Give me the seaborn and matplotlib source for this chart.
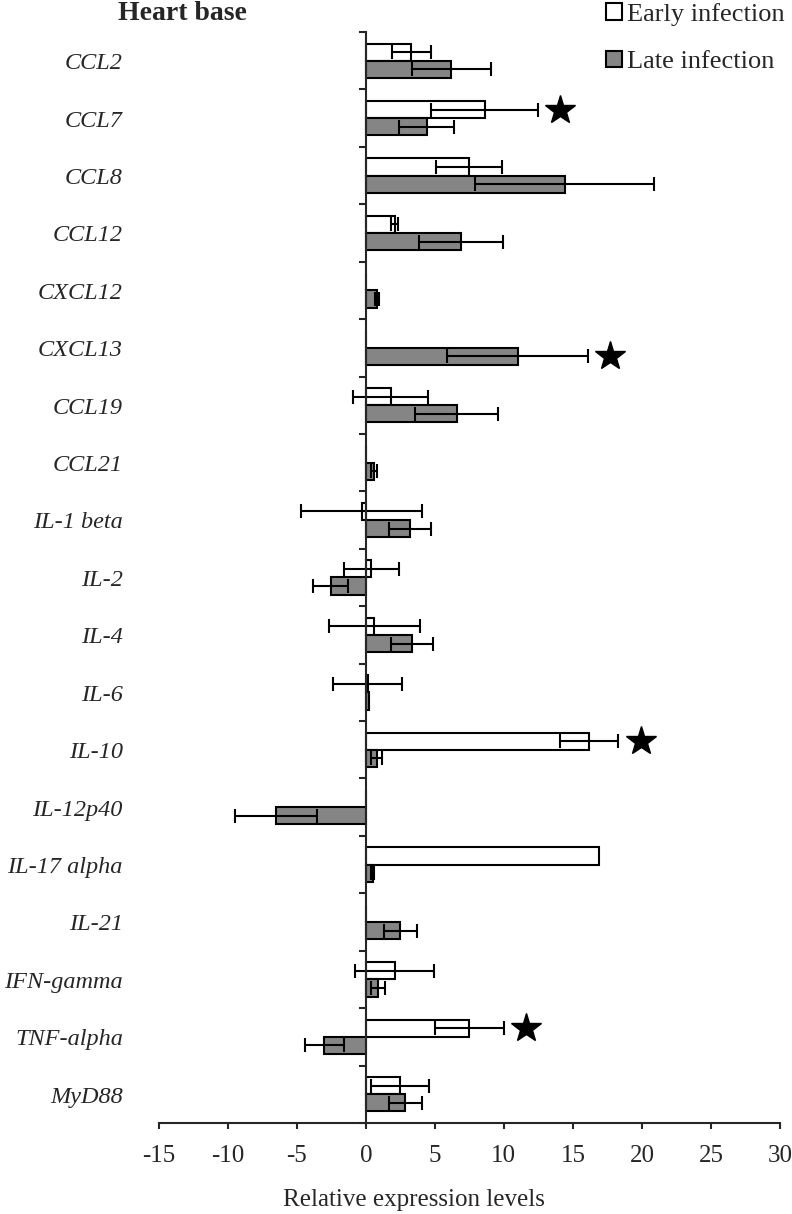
import numpy as np
import pandas as pd
import matplotlib
matplotlib.use("Agg")
import matplotlib.pyplot as plt
import seaborn as sns
from matplotlib.patches import Patch

# values (relative expression, mean and error)
genes = ["CCL2", "CCL7", "CCL8", "CCL12", "CXCL12", "CXCL13", "CCL19", "CCL21",
         "IL-1 beta", "IL-2", "IL-4", "IL-6", "IL-10", "IL-12p40", "IL-17 alpha",
         "IL-21", "IFN-gamma", "TNF-alpha", "MyD88"]
early = [3.3, 8.6, 7.5, 2.1, 0, 0, 1.8, 0, -0.3, 0.4, 0.6, 0.15, 16.2, 0, 16.9, 0, 2.1, 7.5, 2.5]
early_err = [1.4, 3.9, 2.4, 0.25, 0, 0, 2.7, 0, 4.4, 2.0, 3.3, 2.5, 2.1, 0, 0, 0, 2.85, 2.5, 2.1]
late = [6.2, 4.4, 14.4, 6.9, 0.8, 11.0, 6.6, 0.6, 3.2, -2.55, 3.35, 0.2, 0.8, -6.5, 0.5, 2.5, 0.9, -3.0, 2.85]
late_err = [2.85, 2.0, 6.5, 3.05, 0.15, 5.1, 3.0, 0.2, 1.5, 1.25, 1.55, 0, 0.4, 3.0, 0.1, 1.2, 0.5, 1.4, 1.2]
groups = ["Early infection", "Late infection"]
star_genes = ["CCL7", "CXCL13", "IL-10", "TNF-alpha"]
star_group = ["Early infection", "Late infection", "Early infection", "Early infection"]

sns.set_style("ticks")
plt.rcParams["font.family"] = ["Liberation Serif", "DejaVu Serif"]
plt.rcParams["axes.unicode_minus"] = False

df = pd.DataFrame({"gene": genes * 2,
                   "value": early + late,
                   "group": [groups[0]] * len(genes) + [groups[1]] * len(genes)})
errs = early_err + late_err
gray = "#858585"

fig = plt.figure(figsize=(7.92, 12.14), dpi=100)
ax = fig.add_axes([0.2004, 0.075, 0.7844, 0.8986])
sns.barplot(data=df, y="gene", x="value", hue="group", orient="h",
            palette=["white", gray], edgecolor="black", linewidth=1.5,
            width=0.6, gap=0, errorbar=None, legend=False, saturation=1, ax=ax)

# error bars on top of the bars
for p, e in zip(ax.patches, errs):
    if e > 0:
        ax.errorbar(p.get_x() + p.get_width(), p.get_y() + p.get_height() / 2,
                    xerr=e, color="black", capsize=5, elinewidth=1.5, capthick=1.5)

# significance stars
n = len(genes)
for g, grp in zip(star_genes, star_group):
    i = genes.index(g) + (0 if grp == groups[0] else n)
    p = ax.patches[i]
    ax.plot(p.get_x() + p.get_width() + errs[i] + 1.6, p.get_y() + p.get_height() / 2,
            marker="*", ms=22, color="black", linestyle="none")

ax.set_xlim(-15, 30)
ax.set_xticks(range(-15, 31, 5))
ax.set_ylim(n - 0.5, -0.5)
ax.set_yticks(np.arange(-0.5, n, 1))
ax.spines["left"].set_position(("data", 0))
ax.spines["top"].set_visible(False)
ax.spines["right"].set_visible(False)
for s in ["left", "bottom"]:
    ax.spines[s].set_linewidth(1.5)
ax.tick_params(axis="y", direction="out", length=5, width=1.5, labelleft=False)
ax.tick_params(axis="x", direction="out", length=4, width=1.5, labelsize=18, pad=12)
ax.set_ylabel("")

trans = ax.get_yaxis_transform()
for i, g in enumerate(genes):
    ax.text(-0.0576, i + 0.05, g, transform=trans, ha="right", va="center",
            fontsize=17.5, style="italic")

ax.set_xlabel("Relative expression levels", fontsize=18)
ax.xaxis.set_label_coords(0.411, -0.061)

fig.text(182 / 792, 1 - 13 / 1214, "Heart base", fontsize=20, fontweight="bold",
         ha="center", va="center")

fig.legend(handles=[Patch(facecolor="white", edgecolor="black", lw=1.5, label=groups[0]),
                    Patch(facecolor=gray, edgecolor="black", lw=1.5, label=groups[1])],
           loc="upper left", bbox_to_anchor=(606 / 792, 1 - 3 / 1214), frameon=False,
           fontsize=19, handlelength=0.6, handleheight=0.6, handletextpad=0.2,
           labelspacing=0.93, borderpad=0, borderaxespad=0)

fig.savefig("out.png", dpi=100)
